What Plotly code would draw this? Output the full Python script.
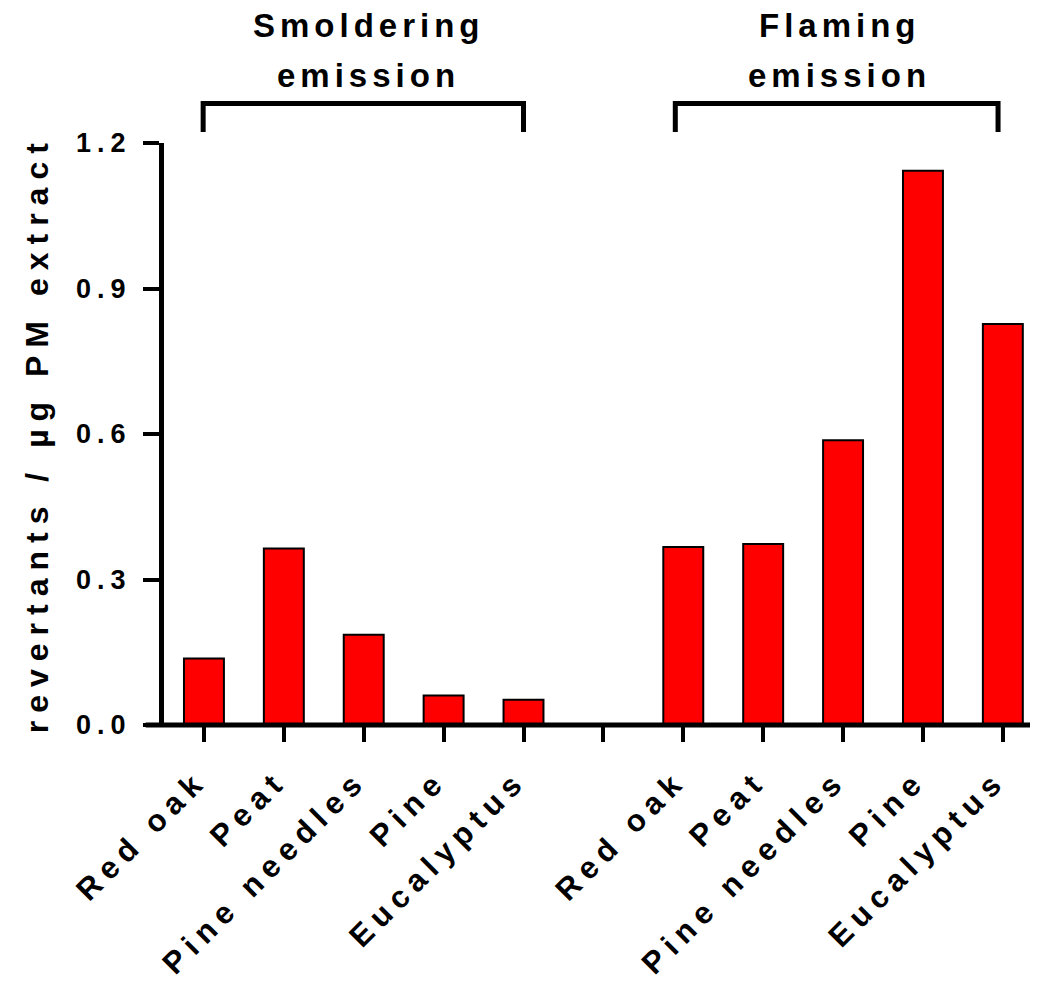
import plotly.graph_objects as go

# ---- data ----
materials = ["Red oak", "Peat", "Pine needles", "Pine", "Eucalyptus"]
smoldering_values = [0.137, 0.364, 0.186, 0.061, 0.052]
flaming_values = [0.367, 0.373, 0.587, 1.143, 0.827]
y_tick_values = [0.0, 0.3, 0.6, 0.9, 1.2]
y_tick_labels = ["0.0", "0.3", "0.6", "0.9", "1.2"]
group_labels = ["Smoldering", "Flaming"]

FONT = "Liberation Sans, Arial, sans-serif"


def sp(t, px):
    return f'<span style="letter-spacing:{px}px">{t}</span>'


# positions: 5 smoldering, one empty slot, 5 flaming
x_smold = list(range(len(materials)))
x_flam = [len(materials) + 1 + i for i in range(len(materials))]
x_all = x_smold + x_flam
y_all = smoldering_values + flaming_values

tickvals = list(range(len(materials) * 2 + 1))
ticktext = [sp(m, 7) for m in materials] + [""] + [sp(m, 7) for m in materials]

fig = go.Figure()
fig.add_trace(go.Bar(
    x=x_all, y=y_all, width=0.5,
    marker=dict(color="#FF0000", line=dict(color="black", width=2)),
    showlegend=False,
))

# page body has an 8px default margin, so the figure is 8px smaller
fig.update_layout(
    width=1030, height=973,
    margin=dict(l=156, r=0, t=135, b=250),
    plot_bgcolor="white", paper_bgcolor="white",
    font=dict(family=FONT, color="black"),
    bargap=0.5,
)

fig.update_xaxes(
    range=[-0.5, 10.44],
    tickmode="array", tickvals=tickvals, ticktext=ticktext,
    tickangle=-45,
    ticks="outside", ticklen=16, tickwidth=4, tickcolor="black",
    ticklabelstandoff=8, ticklabelshift=-6,
    tickfont=dict(family=FONT, size=31, color="black", weight="bold"),
    showline=False, showgrid=False, zeroline=False,
)
fig.update_yaxes(
    range=[0, 1.2],
    tickmode="array", tickvals=y_tick_values,
    ticktext=[sp(t, 6) for t in y_tick_labels],
    ticks="outside", ticklen=16, tickwidth=4, tickcolor="black",
    ticklabelstandoff=6,
    tickfont=dict(family=FONT, size=27, color="black", weight="bold"),
    showline=True, linewidth=5, linecolor="black",
    showgrid=False, zeroline=False,
)

# x axis line extending slightly left of the y axis
fig.add_shape(type="line", xref="paper", yref="paper",
              x0=-0.021, x1=1.0, y0=0, y1=0,
              line=dict(color="black", width=5))

# y axis title
fig.add_annotation(
    text=sp("revertants / µg PM extract", 8),
    xref="paper", yref="paper", x=-0.145, y=0.5,
    xanchor="center", yanchor="middle", textangle=-90, showarrow=False,
    font=dict(family=FONT, size=32, color="black", weight="bold"),
)

# group brackets and labels
brackets = [(-0.01, 4.0, 2.06), (5.9, 9.94, 7.96)]
for (xa, xb, xc), lab in zip(brackets, group_labels):
    fig.add_shape(type="path", xref="x", yref="paper",
                  path=f"M {xa},1.0187 L {xa},1.068 L {xb},1.068 L {xb},1.0187",
                  line=dict(color="black", width=5))
    fig.add_annotation(text=sp(lab, 5), xref="x", yref="paper", x=xc, y=1.202,
                       xanchor="center", yanchor="middle", showarrow=False,
                       font=dict(family=FONT, size=33, color="black", weight="bold"))
    fig.add_annotation(text=sp("emission", 5), xref="x", yref="paper", x=xc, y=1.1156,
                       xanchor="center", yanchor="middle", showarrow=False,
                       font=dict(family=FONT, size=33, color="black", weight="bold"))

fig.write_html("out.html")
